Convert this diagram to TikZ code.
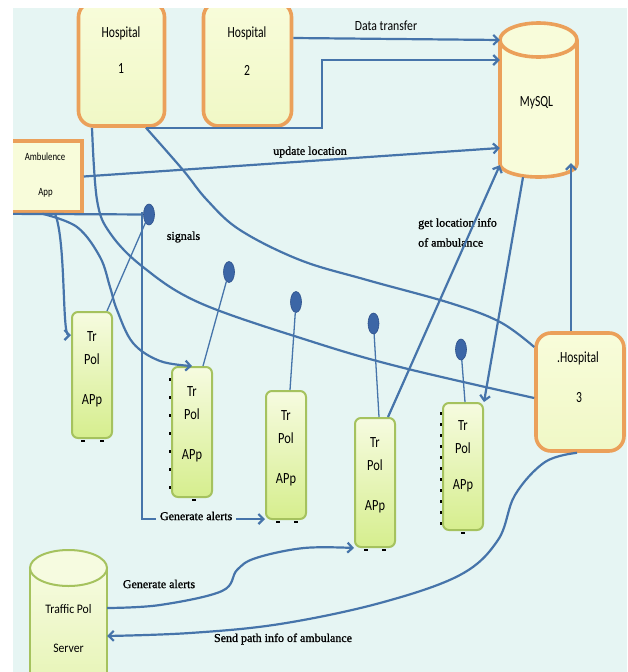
\documentclass[tikz,border=0pt]{standalone}
\usepackage{fontspec}
\setmainfont{Liberation Serif}
\newfontfamily\lblfont[FakeBold=1.2]{Liberation Serif}
\newfontfamily\hfont[FakeStretch=0.75]{Carlito}
\newfontfamily\dtfont[FakeStretch=0.84]{Carlito}
\newfontfamily\tpfont[FakeStretch=0.8]{Carlito}
\newfontfamily\ambfont[FakeStretch=0.8]{Carlito}
\newfontfamily\srvfont[FakeStretch=0.9]{Carlito}
\usetikzlibrary{arrows.meta,shapes.geometric}
\definecolor{bgc}{HTML}{E6F5F3}
\definecolor{lnc}{HTML}{4674AA}
\definecolor{orc}{HTML}{EBA05A}
\definecolor{hf1}{HTML}{F8FCDA}
\definecolor{hf2}{HTML}{F0F8C6}
\definecolor{gb}{HTML}{A5C25E}
\definecolor{gf1}{HTML}{F6FBE0}
\definecolor{gf2}{HTML}{D6EE8E}
\definecolor{gf3}{HTML}{E6F4B4}
\definecolor{dotc}{HTML}{3C66A6}
\definecolor{dotd}{HTML}{2C4F8A}
\tikzset{
  hosp/.style={draw=orc, line width=3.6pt, rounded corners=15pt, top color=hf1, bottom color=hf2, inner sep=0pt},
  ambbox/.style={draw=orc, line width=3.6pt, fill=hf1, inner sep=0pt},
  tpbox/.style={draw=gb, line width=2pt, rounded corners=6pt, top color=gf1, bottom color=gf2, minimum width=40pt, inner sep=0pt},
  sigdot/.style={ellipse, fill=dotc, draw=dotd, line width=0.6pt, minimum width=11pt, minimum height=21pt, inner sep=0pt},
  conn/.style={draw=lnc, line width=2.2pt},
  arr/.style={-{Straight Barb[length=5pt,width=10pt]}},
  sig/.style={draw=lnc, line width=1.3pt},
  htxt/.style={font=\hfont\fontsize{15.5}{18}\selectfont, inner sep=0pt},
  tptxt/.style={font=\tpfont\fontsize{15.5}{18}\selectfont, align=center, inner sep=0pt, anchor=north},
  ambtxt/.style={font=\ambfont\fontsize{11}{13}\selectfont, inner sep=0pt},
  srvtxt/.style={font=\srvfont\fontsize{13}{15}\selectfont, inner sep=0pt},
  dttxt/.style={font=\dtfont\fontsize{14}{16}\selectfont, inner sep=0pt},
  lbl/.style={font=\lblfont\fontsize{12}{14}\selectfont, inner sep=0pt},
  hmark/.style={draw=black, line width=1.3pt},
}
\begin{document}
\begin{tikzpicture}[x=1pt,y=-1pt]
\useasboundingbox (0,0) rectangle (627,672);
\fill[bgc] (0,0) rectangle (627,672);

% hospitals and ambulance app
\node[hosp, minimum width=86pt, minimum height=124pt] (h1) at (121.5,64) {};
\node[hosp, minimum width=88pt, minimum height=124pt] (h2) at (247.5,64) {};
\node[hosp, minimum width=88pt, minimum height=118pt] (h3) at (580,392) {};
\node[ambbox, minimum width=79pt, minimum height=71pt] (amb) at (42.5,176.5) {};

% MySQL cylinder
\path[fill=hf1] (500,40) -- (500,164) .. controls (500,171.2) and (517.25,177) .. (538.5,177) .. controls (559.75,177) and (577,171.2) .. (577,164) -- (577,40) -- cycle;
\draw[draw=orc, line width=3.6pt] (500,40) -- (500,164) .. controls (500,171.2) and (517.25,177) .. (538.5,177) .. controls (559.75,177) and (577,171.2) .. (577,164) -- (577,40);
\draw[draw=orc, line width=3.6pt, fill=hf1] (538.5,40) ellipse [x radius=38.5pt, y radius=17pt];
\node[minimum width=77pt, minimum height=154pt, inner sep=0pt] (mysql) at (538.5,100) {};
\node[htxt] (mysqlt) at (536.5,103) {MySQL};

% Traffic Pol Server cylinder
\path[top color=gf1, bottom color=gf3] (30,568) rectangle (107,690);
\draw[draw=gb, line width=2pt] (30,568) -- (30,690) (107,568) -- (107,690);
\draw[draw=gb, line width=2pt, fill=gf1] (68.5,568) ellipse [x radius=38.5pt, y radius=18pt];
\node[minimum width=77pt, minimum height=140pt, inner sep=0pt] (srv) at (68.5,618) {};
\node[srvtxt] (srva) at (68.5,609) {Traffic Pol};
\node[srvtxt] (srvb) at (68.5,648) {Server};

% Tr Pol boxes
\node[tpbox, minimum height=126pt] (p1) at (92,375) {};
\node[tpbox, minimum height=130pt] (p2) at (192,432) {};
\node[tpbox, minimum height=128pt] (p3) at (286,455) {};
\node[tpbox, minimum height=129pt] (p4) at (375,482.5) {};
\node[tpbox, minimum height=127pt] (p5) at (463,466.5) {};
\node[tptxt] (p1t) at (92,331) {Tr\\[5pt]Pol\\[22pt]APp};
\node[tptxt] (p2t) at (192,386) {Tr\\[5pt]Pol\\[22pt]APp};
\node[tptxt] (p3t) at (286,410) {Tr\\[5pt]Pol\\[22pt]APp};
\node[tptxt] (p4t) at (375,437) {Tr\\[5pt]Pol\\[22pt]APp};
\node[tptxt] (p5t) at (463,420) {Tr\\[5pt]Pol\\[18pt]APp};

% box texts
\node[htxt] (h1a) at (121,33.5) {Hospital};
\node[htxt] (h1b) at (121,69) {1};
\node[htxt] (h2a) at (247,33.5) {Hospital};
\node[htxt] (h2b) at (247,70) {2};
\node[htxt] (h3a) at (578,358) {.Hospital};
\node[htxt] (h3b) at (579,398) {3};
\node[ambtxt] (amba) at (45,157) {Ambulence};
\node[ambtxt] (ambb) at (45.5,193) {App};

% signal pins
\node[sigdot] (d1) at (149,214.5) {};
\node[sigdot] (d2) at (229,272) {};
\node[sigdot] (d3) at (296,302) {};
\node[sigdot] (d4) at (373.5,323.5) {};
\node[sigdot] (d5) at (461,349.5) {};

% labels
\node[dttxt] (dtl) at (386,26) {Data transfer};
\node[lbl] (upl) at (310,152) {update location};
\node[lbl] (sgl) at (183.5,237) {signals};
\node[lbl, anchor=north west, align=left, font=\lblfont\fontsize{12}{20}\selectfont] (gll) at (418,218) {get location info\\of ambulance};
\node[lbl] (ga2) at (159,584) {Generate alerts};
\node[lbl] (spl) at (283,639) {Send path info of ambulance};

% connectors
\coordinate (br) at (142,212);
\draw[conn] (amb.south west) -- (d1);
\draw[conn, arr] (br) |- node[lbl, pos=0.72, fill=bgc, inner xsep=4pt, inner ysep=1pt, yshift=3pt] (ga1) {Generate alerts} ([yshift=1pt]p3.south west);
\draw[conn, arr] ([yshift=26pt]h2.east) -- ([yshift=60pt]mysql.west);
\draw[conn, arr] ([xshift=24.5pt]h1.south) -- ++(176,0) |- ([yshift=40pt]mysql.west);
\draw[conn, arr] (amb.east) -- ([yshift=-48pt]mysql.west);
\draw[conn, arr] ([xshift=13pt]p4.north) -- ([yshift=12pt]mysql.south west);
\draw[conn, arr] ([xshift=-15.5pt]mysql.south) -- (p5.north east);
\coordinate (h3top) at ([xshift=-9pt]h3.north);
\coordinate (mysR) at ([xshift=34pt,yshift=14pt]mysql.south);
\draw[conn, arr] (h3top) -- (h3top |- mysR);

\draw[conn] plot[smooth, tension=0.6] coordinates {([xshift=24.5pt]h1.south) (183,170) (207,200) (240,230) (300,260) (367,280) (450,303) (500,322) ([yshift=45pt]h3.west)};
\draw[conn] plot[smooth, tension=0.6] coordinates {([xshift=-29.5pt]h1.south) (97,200) (110,233) (143,267) (200,303) (310,341) (400,367) ([yshift=-6pt]h3.west)};
\draw[conn, arr] ([xshift=12.5pt]amb.south) .. controls (66,240) and (62,335) .. ([yshift=40pt]p1.west);
\draw[conn, arr] plot[smooth, tension=0.6] coordinates {(amb.south) (77,227) (100,257) (110,287) (117,310) (133,343) (160,361) (p2.north)};

\draw[sig] (d1) -- ([xshift=15pt]p1.north);
\draw[sig] (d2) -- ([xshift=11pt]p2.north);
\draw[sig] (d3) -- ([xshift=4pt]p3.north);
\draw[sig] (d4) -- ([xshift=4pt]p4.north);
\draw[sig] (d5) -- ([xshift=2pt]p5.north);

\draw[conn, arr] plot[smooth, tension=0.6] coordinates {([xshift=-3pt]h3.south) (545,462) (515,495) (498,540) (460,575) (380,603) (280,624) (190,633) ([yshift=-18pt]srv.east)};
\draw[conn, arr] plot[smooth, tension=0.6] coordinates {([yshift=10pt]srv.east) (160,605) (222,591) (237,570) (256,558) (304,548) (p4.south west)};

% selection handle marks
\draw[hmark] (81,441) -- (85,441) (100,441) -- (104,441);
\draw[hmark, dash pattern=on 3pt off 15pt] (170,378) -- (170,495);
\draw[hmark] (192,500) -- (196,500);
\draw[hmark] (276,522) -- (280,522) (294,522) -- (298,522);
\draw[hmark] (364,550) -- (368,550) (382,550) -- (386,550);
\draw[hmark, dash pattern=on 3pt off 8pt] (441,412) -- (441,527);
\draw[hmark] (461,533) -- (465,533);

% white page margins
\fill[white] (0,0) rectangle (13,672);
\fill[white] (0,0) rectangle (627,8);
\end{tikzpicture}
\end{document}
